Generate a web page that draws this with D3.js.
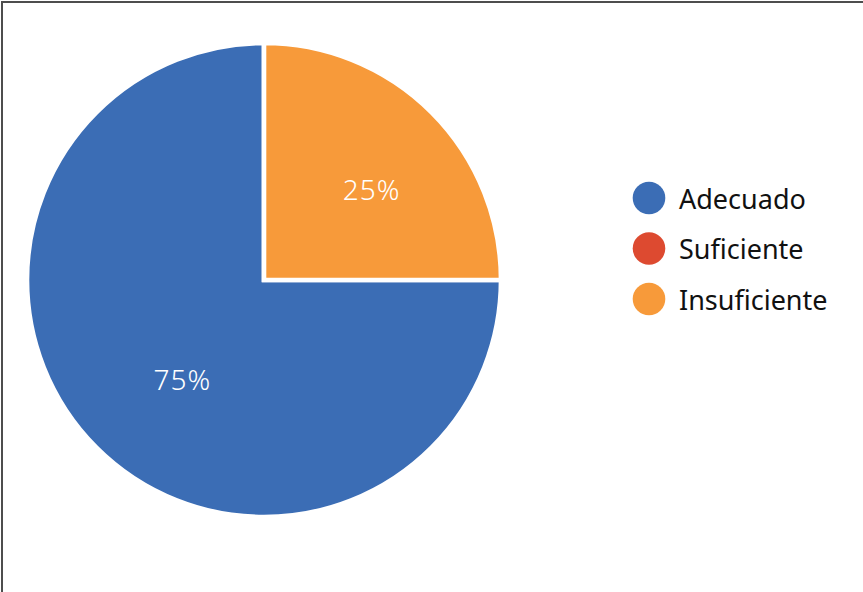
<!DOCTYPE html>
<html>
<head>
<meta charset="utf-8">
<script src="https://cdn.jsdelivr.net/npm/d3@7"></script>
<style>
  html, body { margin: 0; padding: 0; background: #fff; }
  svg { display: block; }
</style>
</head>
<body>
<svg id="chart" width="863" height="592"></svg>
<script>
// Evaluation categories and their shares (%)
const categories = ["Adecuado", "Suficiente", "Insuficiente"];
const values = [75, 0, 25];
const colors = ["#3b6db5", "#dd4a30", "#f79a3a"];

const svg = d3.select("#chart");
const W = 863, H = 592;

// frame
svg.append("rect")
  .attr("x", 2).attr("y", 2)
  .attr("width", W + 10).attr("height", H + 10)
  .attr("fill", "#fff")
  .attr("stroke", "#4d4d4d")
  .attr("stroke-width", 2);

const cx = 264, cy = 280, R = 237;
const data = categories.map((c, i) => ({ name: c, value: values[i], color: colors[i] }));

// slices go counter-clockwise from 12 o'clock in reverse order so the
// last category sits in the top-right quadrant
const pie = d3.pie()
  .value(d => d.value)
  .sort(null)
  .startAngle(2 * Math.PI)
  .endAngle(0);

const arcs = pie(data).filter(d => d.data.value > 0);
const arc = d3.arc().innerRadius(0).outerRadius(R);

const g = svg.append("g").attr("transform", `translate(${cx},${cy})`);

g.selectAll("path.slice")
  .data(arcs)
  .join("path")
  .attr("class", "slice")
  .attr("d", arc)
  .attr("fill", d => d.data.color)
  .attr("stroke", "#fff")
  .attr("stroke-width", 4.6)
  .attr("stroke-linejoin", "miter");

const labelArc = d3.arc().innerRadius(0).outerRadius(R * 0.565 * 2);
const total = d3.sum(values);

g.selectAll("text.pct")
  .data(arcs)
  .join("text")
  .attr("class", "pct")
  .attr("transform", d => {
    const [x, y] = labelArc.centroid(d);
    return `translate(${x + 13},${y + 4})`;
  })
  .attr("text-anchor", "middle")
  .attr("dominant-baseline", "central")
  .attr("fill", "#fff")
  .attr("font-family", "'Noto Sans', 'Open Sans', sans-serif")
  .attr("font-weight", 300)
  .attr("letter-spacing", 1)
  .attr("font-size", 28)
  .text(d => Math.round(d.data.value / total * 100) + "%");

// legend
const legend = svg.append("g").attr("transform", "translate(649,198)");
const item = legend.selectAll("g.item")
  .data(data)
  .join("g")
  .attr("class", "item")
  .attr("transform", (d, i) => `translate(0,${i * 50.5})`);

item.append("circle")
  .attr("r", 16.3)
  .attr("fill", d => d.color);

item.append("text")
  .attr("x", 30)
  .attr("y", 0)
  .attr("dominant-baseline", "central")
  .attr("fill", "#111")
  .attr("font-family", "'Noto Sans', 'Open Sans', sans-serif")
  .attr("font-size", 27)
  .text(d => d.name);
</script>
</body>
</html>
